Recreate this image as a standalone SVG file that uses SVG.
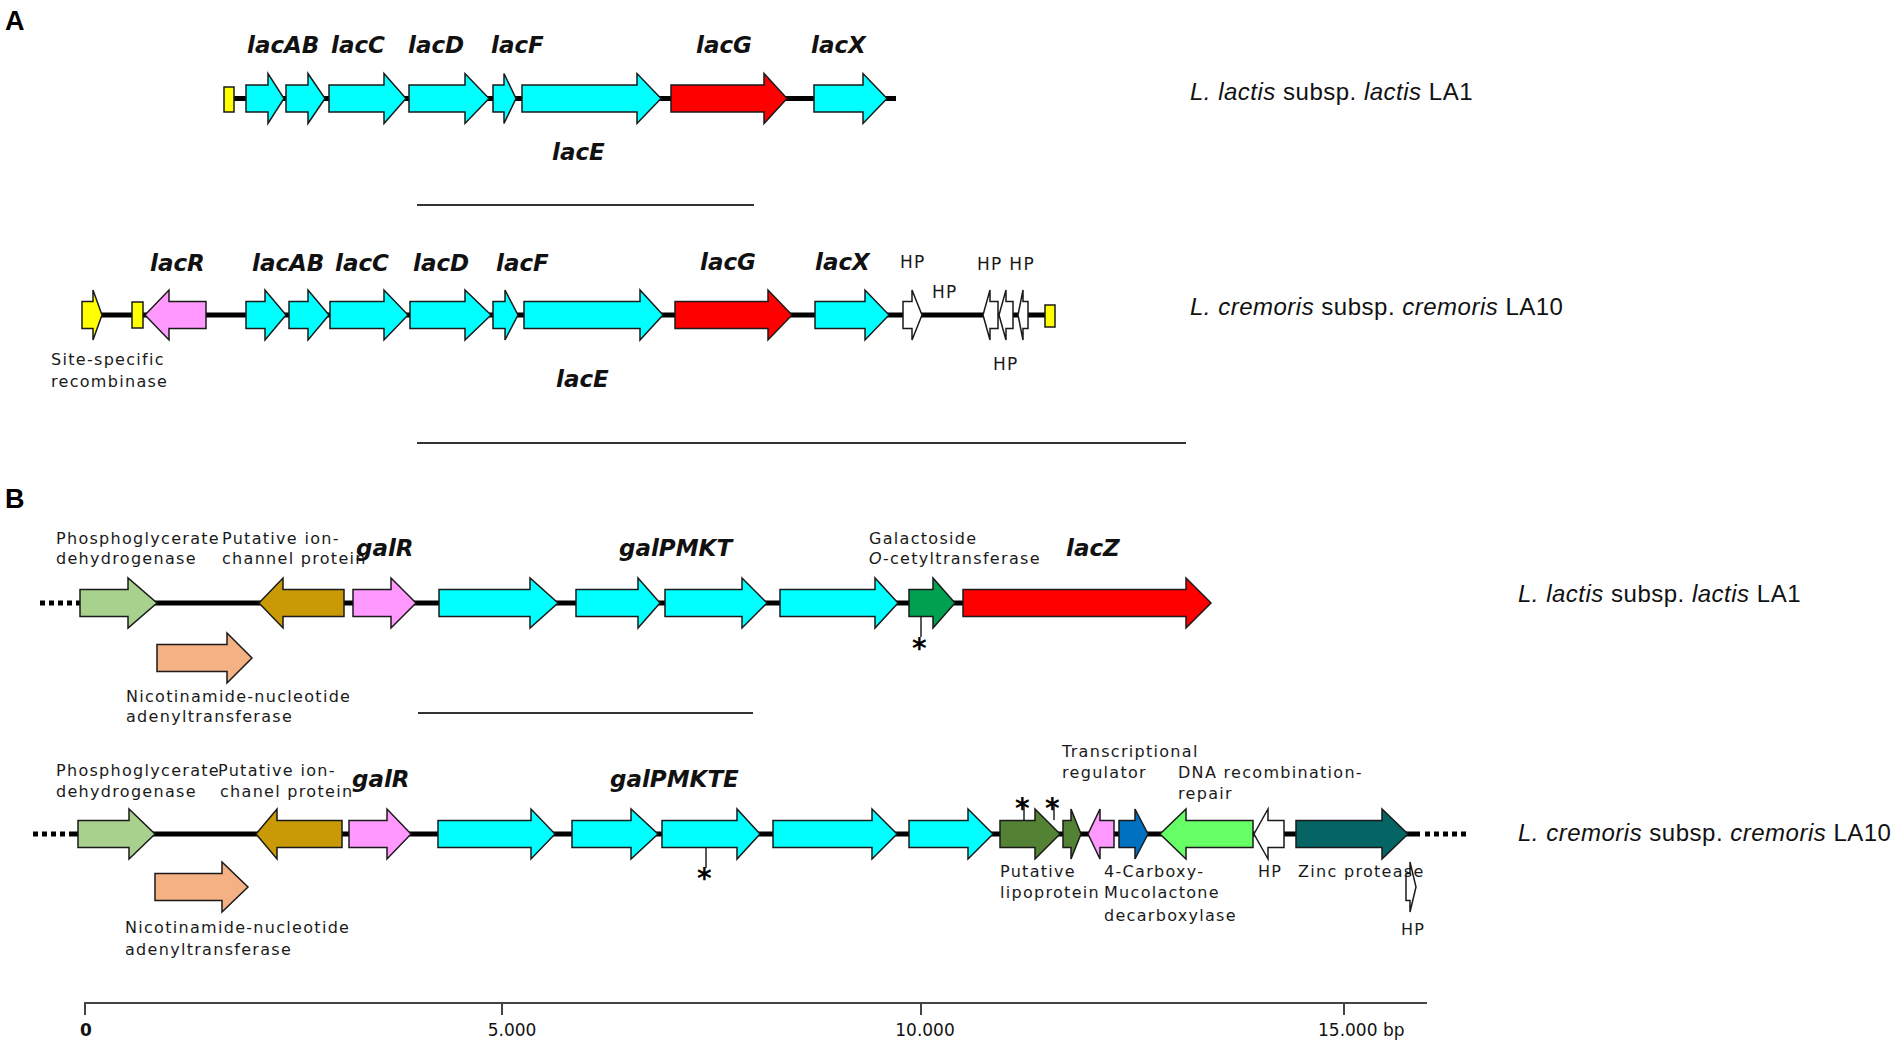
<svg xmlns="http://www.w3.org/2000/svg" width="1904" height="1046" viewBox="0 0 1904 1046">
<style>
.g{stroke:#1a1a1a;stroke-width:1.5;stroke-linejoin:miter}
.cy{fill:#00FFFF}.rd{fill:#FF0000}.ye{fill:#FFFF00}.pk{fill:#FF99FF}.lg{fill:#A9D18E}.br{fill:#C99A06}.pe{fill:#F4B183}.dg{fill:#00A050}.ol{fill:#548235}.bl{fill:#0070C0}.lm{fill:#66FF66}.tl{fill:#056464}.wh{fill:#FFFFFF}
.bb{stroke:#000;stroke-width:5;fill:none}
.dots{stroke:#000;stroke-width:5;stroke-dasharray:5 4;fill:none}
.sep{stroke:#333;stroke-width:2;fill:none}
.ast{stroke:#000;stroke-width:1.3;fill:none}
.gl{font-family:"DejaVu Sans",sans-serif;font-weight:bold;font-style:italic;font-size:23px;fill:#111}
.sm{font-family:"DejaVu Sans",sans-serif;font-size:16px;letter-spacing:1.3px;fill:#1a1a1a}
.hp{font-family:"DejaVu Sans",sans-serif;font-size:17px;letter-spacing:1.3px;fill:#1a1a1a}
.st{font-family:"Liberation Sans",Arial,sans-serif;font-size:24px;letter-spacing:0.5px;fill:#111}
.ax{font-family:"DejaVu Sans",sans-serif;font-size:17px;fill:#111}
.pl{font-family:"Liberation Sans",Arial,sans-serif;font-weight:bold;font-size:27px;fill:#000}
.as{font-family:"DejaVu Sans",sans-serif;font-weight:bold;font-size:28px;fill:#000}
</style>
<rect width="1904" height="1046" fill="#FFFFFF"/>

<text class="pl" x="5" y="30">A</text>
<text class="pl" x="5" y="508">B</text>

<!-- connectors: backbones, separators, asterisk leaders, axis -->
<g id="connectors">
  <line class="bb" x1="230" y1="98.5" x2="896" y2="98.5"/>
  <line class="bb" x1="95" y1="315" x2="1048" y2="315"/>
  <line class="dots" x1="40" y1="603" x2="76" y2="603"/>
  <line class="bb" x1="76" y1="603" x2="1200" y2="603"/>
  <line class="dots" x1="33" y1="834" x2="72" y2="834"/>
  <line class="bb" x1="72" y1="834" x2="1420" y2="834"/>
  <line class="dots" x1="1425" y1="834" x2="1470" y2="834"/>
  <line class="sep" x1="417" y1="205" x2="754" y2="205"/>
  <line class="sep" x1="417" y1="443" x2="1186" y2="443"/>
  <line class="sep" x1="418" y1="713" x2="753" y2="713"/>
  <line class="ast" x1="921" y1="617" x2="921" y2="637"/>
  <line class="ast" x1="706" y1="848" x2="706" y2="868"/>
  <line class="ast" x1="1024" y1="820" x2="1024" y2="806"/>
  <line class="ast" x1="1054" y1="820" x2="1054" y2="806"/>
</g>

<!-- Row A1 -->
<g id="A1-genes">
  <g id="A1-yellow"><rect class="g ye" x="224" y="87" width="10" height="25"/></g>
  <g id="A1-lacA"><polygon class="g cy" points="246,85 268,85 268,73.5 284,98.5 268,123.5 268,112 246,112"/></g>
  <g id="A1-lacB"><polygon class="g cy" points="286,85 308,85 308,73.5 325,98.5 308,123.5 308,112 286,112"/></g>
  <g id="A1-lacC"><polygon class="g cy" points="329,85 384,85 384,73.5 406,98.5 384,123.5 384,112 329,112"/></g>
  <g id="A1-lacD"><polygon class="g cy" points="409,85 465,85 465,73.5 489,98.5 465,123.5 465,112 409,112"/></g>
  <g id="A1-lacF"><polygon class="g cy" points="493,85 504,85 504,73.5 516,98.5 504,123.5 504,112 493,112"/></g>
  <g id="A1-lacE"><polygon class="g cy" points="522,85 637,85 637,73.5 661,98.5 637,123.5 637,112 522,112"/></g>
  <g id="A1-lacG"><polygon class="g rd" points="671,85 764,85 764,73.5 787,98.5 764,123.5 764,112 671,112"/></g>
  <g id="A1-lacX"><polygon class="g cy" points="814,85 863,85 863,73.5 887,98.5 863,123.5 863,112 814,112"/></g>
</g>
<g id="A1-labels">
  <text class="gl" x="247" y="53">lacAB</text>
  <text class="gl" x="331" y="53">lacC</text>
  <text class="gl" x="408" y="53">lacD</text>
  <text class="gl" x="491" y="53">lacF</text>
  <text class="gl" x="696" y="53">lacG</text>
  <text class="gl" x="811" y="53">lacX</text>
  <text class="gl" x="552" y="160">lacE</text>
  <text class="st" x="1190" y="100"><tspan font-style="italic">L. lactis</tspan> subsp. <tspan font-style="italic">lactis</tspan> LA1</text>
</g>

<!-- Row A2 -->
<g id="A2-genes">
  <g id="A2-recombinase"><polygon class="g ye" points="82,301.5 93,301.5 93,290 102,315 93,340 93,328.5 82,328.5"/></g>
  <g id="A2-yellow1"><rect class="g ye" x="132" y="302" width="11" height="26"/></g>
  <g id="A2-lacR"><polygon class="g pk" points="206,301.5 169,301.5 169,290 145,315 169,340 169,328.5 206,328.5"/></g>
  <g id="A2-lacA"><polygon class="g cy" points="246,301.5 265,301.5 265,290 286,315 265,340 265,328.5 246,328.5"/></g>
  <g id="A2-lacB"><polygon class="g cy" points="289,301.5 308,301.5 308,290 329,315 308,340 308,328.5 289,328.5"/></g>
  <g id="A2-lacC"><polygon class="g cy" points="330,301.5 384,301.5 384,290 408,315 384,340 384,328.5 330,328.5"/></g>
  <g id="A2-lacD"><polygon class="g cy" points="410,301.5 465,301.5 465,290 491,315 465,340 465,328.5 410,328.5"/></g>
  <g id="A2-lacF"><polygon class="g cy" points="493,301.5 505,301.5 505,290 518,315 505,340 505,328.5 493,328.5"/></g>
  <g id="A2-lacE"><polygon class="g cy" points="524,301.5 640,301.5 640,290 663,315 640,340 640,328.5 524,328.5"/></g>
  <g id="A2-lacG"><polygon class="g rd" points="675,301.5 768,301.5 768,290 792,315 768,340 768,328.5 675,328.5"/></g>
  <g id="A2-lacX"><polygon class="g cy" points="815,301.5 865,301.5 865,290 889,315 865,340 865,328.5 815,328.5"/></g>
  <g id="A2-HP1"><polygon class="g wh" points="903,301.5 912,301.5 912,290 922,315 912,340 912,328.5 903,328.5"/></g>
  <g id="A2-HP2"><polygon class="g wh" points="998,301.5 990,301.5 990,290 983,315 990,340 990,328.5 998,328.5"/></g>
  <g id="A2-HP3"><polygon class="g wh" points="1013,301.5 1006,301.5 1006,290 999,315 1006,340 1006,328.5 1013,328.5"/></g>
  <g id="A2-HP4"><polygon class="g wh" points="1028,301.5 1023,301.5 1023,290 1018,315 1023,340 1023,328.5 1028,328.5"/></g>
  <g id="A2-yellow2"><rect class="g ye" x="1045" y="305" width="10" height="22"/></g>
</g>
<g id="A2-labels">
  <text class="gl" x="150" y="271">lacR</text>
  <text class="gl" x="252" y="271">lacAB</text>
  <text class="gl" x="335" y="271">lacC</text>
  <text class="gl" x="413" y="271">lacD</text>
  <text class="gl" x="496" y="271">lacF</text>
  <text class="gl" x="700" y="270">lacG</text>
  <text class="gl" x="815" y="270">lacX</text>
  <text class="gl" x="556" y="387">lacE</text>
  <text class="hp" x="900" y="268">HP</text>
  <text class="hp" x="932" y="298">HP</text>
  <text class="hp" x="977" y="270">HP HP</text>
  <text class="hp" x="993" y="370">HP</text>
  <text class="sm" x="51" y="365">Site-specific</text>
  <text class="sm" x="51" y="387">recombinase</text>
  <text class="st" x="1190" y="315"><tspan font-style="italic">L. cremoris</tspan> subsp. <tspan font-style="italic">cremoris</tspan> LA10</text>
</g>

<!-- Row B1 -->
<g id="B1-genes">
  <g id="B1-pgdh"><polygon class="g lg" points="80,589.5 128,589.5 128,578 157,603 128,628 128,616.5 80,616.5"/></g>
  <g id="B1-ion"><polygon class="g br" points="344,589.5 283,589.5 283,578 259,603 283,628 283,616.5 344,616.5"/></g>
  <g id="B1-galR"><polygon class="g pk" points="353,589.5 391,589.5 391,578 416,603 391,628 391,616.5 353,616.5"/></g>
  <g id="B1-galP"><polygon class="g cy" points="439,589.5 530,589.5 530,578 558,603 530,628 530,616.5 439,616.5"/></g>
  <g id="B1-galM"><polygon class="g cy" points="576,589.5 638,589.5 638,578 660,603 638,628 638,616.5 576,616.5"/></g>
  <g id="B1-galK"><polygon class="g cy" points="665,589.5 742,589.5 742,578 767,603 742,628 742,616.5 665,616.5"/></g>
  <g id="B1-galT"><polygon class="g cy" points="780,589.5 875,589.5 875,578 898,603 875,628 875,616.5 780,616.5"/></g>
  <g id="B1-gat"><polygon class="g dg" points="909,589.5 933,589.5 933,578 955,603 933,628 933,616.5 909,616.5"/></g>
  <g id="B1-lacZ"><polygon class="g rd" points="963,589.5 1186,589.5 1186,578 1211,603 1186,628 1186,616.5 963,616.5"/></g>
  <g id="B1-nadD"><polygon class="g pe" points="157,644.5 227,644.5 227,633 252,658 227,683 227,671.5 157,671.5"/></g>
</g>
<g id="B1-labels">
  <text class="sm" x="56" y="544">Phosphoglycerate</text>
  <text class="sm" x="56" y="564">dehydrogenase</text>
  <text class="sm" x="222" y="544">Putative ion-</text>
  <text class="sm" x="222" y="564">channel protein</text>
  <text class="gl" x="356" y="556">galR</text>
  <text class="gl" x="619" y="556">galPMKT</text>
  <text class="sm" x="869" y="544">Galactoside</text>
  <text class="sm" x="869" y="564"><tspan font-style="italic">O</tspan>-cetyltransferase</text>
  <text class="gl" x="1066" y="556">lacZ</text>
  <text class="sm" x="126" y="702">Nicotinamide-nucleotide</text>
  <text class="sm" x="126" y="722">adenyltransferase</text>
  <text class="as" x="912" y="658">*</text>
  <text class="st" x="1518" y="602"><tspan font-style="italic">L. lactis</tspan> subsp. <tspan font-style="italic">lactis</tspan> LA1</text>
</g>

<!-- Row B2 -->
<g id="B2-genes">
  <g id="B2-pgdh"><polygon class="g lg" points="78,820.5 129,820.5 129,809 155,834 129,859 129,847.5 78,847.5"/></g>
  <g id="B2-ion"><polygon class="g br" points="342,820.5 277,820.5 277,809 256,834 277,859 277,847.5 342,847.5"/></g>
  <g id="B2-galR"><polygon class="g pk" points="349,820.5 387,820.5 387,809 411,834 387,859 387,847.5 349,847.5"/></g>
  <g id="B2-galP"><polygon class="g cy" points="438,820.5 531,820.5 531,809 555,834 531,859 531,847.5 438,847.5"/></g>
  <g id="B2-galM"><polygon class="g cy" points="572,820.5 631,820.5 631,809 658,834 631,859 631,847.5 572,847.5"/></g>
  <g id="B2-galK"><polygon class="g cy" points="662,820.5 737,820.5 737,809 760,834 737,859 737,847.5 662,847.5"/></g>
  <g id="B2-galT"><polygon class="g cy" points="773,820.5 872,820.5 872,809 897,834 872,859 872,847.5 773,847.5"/></g>
  <g id="B2-lacE"><polygon class="g cy" points="909,820.5 968,820.5 968,809 993,834 968,859 968,847.5 909,847.5"/></g>
  <g id="B2-lipo"><polygon class="g ol" points="1000,820.5 1035,820.5 1035,809 1060,834 1035,859 1035,847.5 1000,847.5"/></g>
  <g id="B2-olive2"><polygon class="g ol" points="1063,820.5 1071,820.5 1071,809 1081,834 1071,859 1071,847.5 1063,847.5"/></g>
  <g id="B2-treg"><polygon class="g pk" points="1114,820.5 1100,820.5 1100,809 1088,834 1100,859 1100,847.5 1114,847.5"/></g>
  <g id="B2-cmd"><polygon class="g bl" points="1119,820.5 1135,820.5 1135,809 1148,834 1135,859 1135,847.5 1119,847.5"/></g>
  <g id="B2-dna"><polygon class="g lm" points="1253,820.5 1186,820.5 1186,809 1160,834 1186,859 1186,847.5 1253,847.5"/></g>
  <g id="B2-HP1"><polygon class="g wh" points="1284,820.5 1268,820.5 1268,809 1254,834 1268,859 1268,847.5 1284,847.5"/></g>
  <g id="B2-zinc"><polygon class="g tl" points="1296,820.5 1382,820.5 1382,809 1408,834 1382,859 1382,847.5 1296,847.5"/></g>
  <g id="B2-nadD"><polygon class="g pe" points="155,873.5 222,873.5 222,862 248,887 222,912 222,900.5 155,900.5"/></g>
  <g id="B2-HP2"><polygon class="g wh" points="1406,873.5 1410,873.5 1410,862 1416,887 1410,912 1410,900.5 1406,900.5"/></g>
</g>
<g id="B2-labels">
  <text class="sm" x="56" y="776">Phosphoglycerate</text>
  <text class="sm" x="56" y="797">dehydrogenase</text>
  <text class="sm" x="218" y="776">Putative ion-</text>
  <text class="sm" x="220" y="797">chanel protein</text>
  <text class="gl" x="352" y="787">galR</text>
  <text class="gl" x="610" y="787">galPMKTE</text>
  <text class="sm" x="1062" y="757">Transcriptional</text>
  <text class="sm" x="1062" y="778">regulator</text>
  <text class="sm" x="1178" y="778">DNA recombination-</text>
  <text class="sm" x="1178" y="799">repair</text>
  <text class="sm" x="1000" y="877">Putative</text>
  <text class="sm" x="1000" y="898">lipoprotein</text>
  <text class="sm" x="1104" y="877">4-Carboxy-</text>
  <text class="sm" x="1104" y="898">Mucolactone</text>
  <text class="sm" x="1104" y="921">decarboxylase</text>
  <text class="sm" x="1258" y="877">HP</text>
  <text class="sm" x="1298" y="877">Zinc protease</text>
  <text class="sm" x="1401" y="935">HP</text>
  <text class="sm" x="125" y="933">Nicotinamide-nucleotide</text>
  <text class="sm" x="125" y="955">adenyltransferase</text>
  <text class="as" x="697" y="888">*</text>
  <text class="as" x="1015" y="818">*</text>
  <text class="as" x="1045" y="818">*</text>
  <text class="st" x="1518" y="841"><tspan font-style="italic">L. cremoris</tspan> subsp. <tspan font-style="italic">cremoris</tspan> LA10</text>
</g>

<!-- scale axis -->
<g id="scale">
  <line x1="84" y1="1003" x2="1427" y2="1003" stroke="#444" stroke-width="2"/>
  <line x1="85" y1="1003" x2="85" y2="1015" stroke="#444" stroke-width="2"/>
  <line x1="502" y1="1003" x2="502" y2="1015" stroke="#444" stroke-width="2"/>
  <line x1="921" y1="1003" x2="921" y2="1015" stroke="#444" stroke-width="2"/>
  <line x1="1344" y1="1003" x2="1344" y2="1015" stroke="#444" stroke-width="2"/>
  <text class="ax" x="86" y="1036" text-anchor="middle" font-weight="bold">0</text>
  <text class="ax" x="512" y="1036" text-anchor="middle">5.000</text>
  <text class="ax" x="925" y="1036" text-anchor="middle">10.000</text>
  <text class="ax" x="1318" y="1036">15.000 bp</text>
</g>
</svg>
